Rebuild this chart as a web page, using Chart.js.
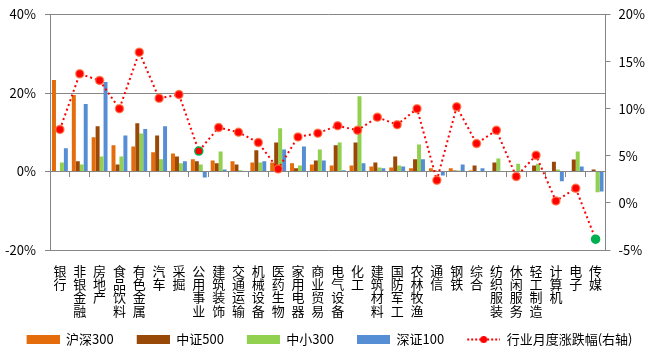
<!DOCTYPE html>
<html>
<head>
<meta charset="utf-8">
<script src="https://cdn.jsdelivr.net/npm/chart.js@4"></script>
<style>
  html, body { margin: 0; padding: 0; background: #fff; }
  #wrap { width: 650px; height: 362px; }
</style>
</head>
<body>
<div id="wrap"><canvas id="c"></canvas></div>
<script>
// industries
const categories = ['银行','非银金融','房地产','食品饮料','有色金属','汽车','采掘','公用事业','建筑装饰','交通运输',
  '机械设备','医药生物','家用电器','商业贸易','电气设备','化工','建筑材料','国防军工','农林牧渔','通信',
  '钢铁','综合','纺织服装','休闲服务','轻工制造','计算机','电子','传媒'];

// left axis (%)
const hs300 = [23.3,19.5,8.7,6.7,6.4,4.9,4.6,3.1,2.8,2.6,2.3,2.3,2.1,1.8,1.5,1.5,1.3,1.0,0.8,0.8,0.8,0.25,0,0,0,0,0,0];
const zz500 = [0,2.6,11.5,1.8,12.3,9.2,3.8,2.6,2.1,1.8,5.4,7.4,0.8,2.8,6.7,7.4,2.3,3.8,3.1,0.25,0.25,1.5,2.3,0,1.5,2.5,3.05,0.5];
const zx300 = [2.3,1.8,3.8,3.8,9.7,3.1,2.1,1.8,5.1,0.3,2.3,11.0,1.5,5.6,7.4,19.2,1.0,1.5,6.9,0,0.25,0,3.3,2.0,2.0,0.5,5.1,-5.3];
const sz100 = [5.9,17.2,22.8,9.2,10.8,11.5,2.6,-1.5,0.5,0,2.6,5.6,6.4,2.8,0.3,2.1,0.8,1.3,3.1,-1.0,1.8,0.8,0,0,0,-2.5,1.3,-5.1];

// right axis (%)
const monthChg = [7.8,13.7,13.0,10.0,16.0,11.1,11.5,5.5,8.0,7.5,6.4,3.6,7.0,7.4,8.2,7.7,9.1,8.3,10.0,2.4,
  10.2,6.3,7.7,2.8,5.05,0.2,1.55,-3.85];

const leftTicks = [-20, 0, 20, 40];
const rightTicks = [-5, 0, 5, 10, 15, 20];

const COLORS = { hs: '#E46C0A', zz: '#984807', zx: '#92D050', sz: '#558ED5', line: '#FF0000', low: '#00B050' };
const AXIS = '#868686';
const FONT = "'Noto Sans CJK SC', 'DejaVu Sans', sans-serif";
const GAP = 9; // blank room left of each legend swatch

function boxImg(color) {
  const cv = document.createElement('canvas');
  cv.width = 33 + GAP; cv.height = 9;
  const g = cv.getContext('2d');
  g.fillStyle = color;
  g.fillRect(GAP, 0, 33, 9);
  return cv;
}
function lineImg() {
  const cv = document.createElement('canvas');
  cv.width = 33 + GAP; cv.height = 9;
  const g = cv.getContext('2d');
  g.strokeStyle = COLORS.line;
  g.lineWidth = 2;
  g.setLineDash([2, 2]);
  g.beginPath(); g.moveTo(GAP, 4.5); g.lineTo(GAP + 33, 4.5); g.stroke();
  g.fillStyle = COLORS.line;
  g.beginPath(); g.arc(GAP + 16.5, 4.5, 3.5, 0, Math.PI * 2); g.fill();
  return cv;
}

const n = monthChg.length;
const ptFill = monthChg.map((v, i) => i === n - 1 ? COLORS.low : COLORS.line);
const ptBorder = monthChg.map((v, i) => (i === n - 1 || i === 7) ? COLORS.low : 'rgba(255,110,60,0.75)');

const legendImgs = [boxImg(COLORS.hs), boxImg(COLORS.zz), boxImg(COLORS.zx), boxImg(COLORS.sz), lineImg()];

function fixY(width) {
  return (s) => { s.width = width; s.paddingTop = 0; s.paddingBottom = 0; };
}

new Chart(document.getElementById('c'), {
  type: 'bar',
  data: {
    labels: categories.map(s => s.split('')),
    datasets: [
      { type: 'line', label: '行业月度涨跌幅(右轴)', data: monthChg, yAxisID: 'y1', order: 0,
        borderColor: COLORS.line, borderWidth: 2, borderDash: [2, 3], fill: false, tension: 0,
        pointRadius: 4, pointBorderWidth: 1.5, pointBackgroundColor: ptFill, pointBorderColor: ptBorder },
      { label: '沪深300', data: hs300, backgroundColor: COLORS.hs, yAxisID: 'y', order: 1 },
      { label: '中证500', data: zz500, backgroundColor: COLORS.zz, yAxisID: 'y', order: 1 },
      { label: '中小300', data: zx300, backgroundColor: COLORS.zx, yAxisID: 'y', order: 1 },
      { label: '深证100', data: sz100, backgroundColor: COLORS.sz, yAxisID: 'y', order: 1 }
    ]
  },
  options: {
    responsive: true,
    maintainAspectRatio: false,
    animation: false,
    datasets: { bar: { categoryPercentage: 0.8, barPercentage: 1.0 } },
    layout: { padding: { top: 14.5, bottom: 6, left: 0, right: 0 } },
    plugins: {
      tooltip: { enabled: false },
      legend: {
        position: 'bottom',
        labels: {
          usePointStyle: true,
          pointStyleWidth: 33 + GAP,
          padding: 14,
          color: '#000',
          font: { family: FONT, size: 13 },
          generateLabels: (chart) => {
            const order = [1, 2, 3, 4, 0];
            return order.map((di, k) => ({
              text: chart.data.datasets[di].label,
              pointStyle: legendImgs[k],
              fillStyle: 'transparent',
              strokeStyle: 'transparent',
              lineWidth: 0,
              datasetIndex: di
            }));
          }
        }
      }
    },
    scales: {
      x: {
        grid: { display: false, drawTicks: false },
        border: { display: false },
        ticks: { color: '#000', font: { family: FONT, size: 13, lineHeight: 1.03 }, padding: 14,
          maxRotation: 0, minRotation: 0, autoSkip: false },
        afterFit: (s) => { s.height = 69; }
      },
      x2: {
        type: 'category',
        position: { y: 0 },
        offset: true,
        grid: { offset: true, drawOnChartArea: false, drawTicks: true, tickLength: 5, color: AXIS },
        border: { display: false },
        ticks: { display: false }
      },
      y: {
        position: 'left',
        min: -20, max: 40,
        afterBuildTicks: (s) => { s.ticks = leftTicks.map(v => ({ value: v })); },
        grid: { color: AXIS, tickLength: 5 },
        border: { color: AXIS },
        ticks: { color: '#000', font: { family: FONT, size: 13 }, padding: 9, callback: v => v + '%' },
        afterFit: fixY(50)
      },
      y1: {
        position: 'right',
        min: -5, max: 20,
        afterBuildTicks: (s) => { s.ticks = rightTicks.map(v => ({ value: v })); },
        grid: { drawOnChartArea: false, color: AXIS, tickLength: 5 },
        border: { color: AXIS },
        ticks: { color: '#000', font: { family: FONT, size: 13 }, padding: 8, callback: v => v + '%' },
        afterFit: fixY(44.5)
      }
    }
  }
});
</script>
</body>
</html>
